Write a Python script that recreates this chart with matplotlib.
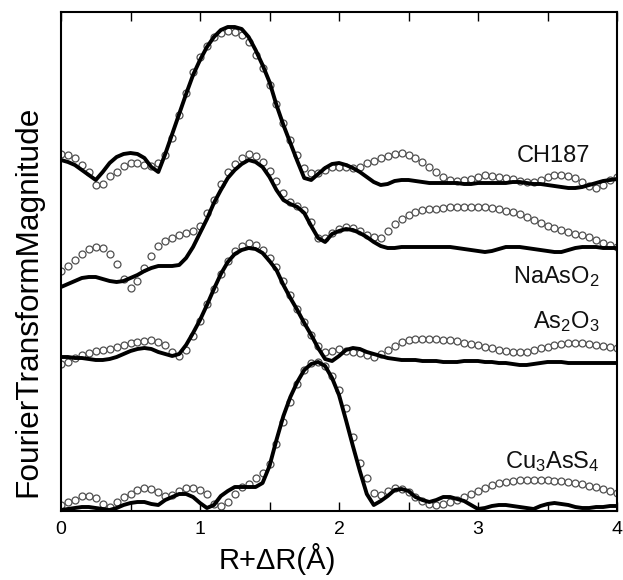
import numpy as np
import matplotlib
matplotlib.use("Agg")
import matplotlib.pyplot as plt
from matplotlib.ticker import MultipleLocator, NullLocator

plt.rcParams['font.family'] = ['Liberation Sans', 'DejaVu Sans']
plt.rcParams['mathtext.default'] = 'regular'

# R + dR grid (Angstrom)
r = np.round(np.arange(0, 81) * 0.05, 2)

# vertical offsets of the stacked spectra (arbitrary units)
offsets = {"CH187": 320, "NaAsO$_2$": 220, "As$_2$O$_3$": 140, "Cu$_3$AsS$_4$": 0}

ch187_fit = [31, 29, 26, 21, 16, 11, 19, 28, 34, 37,
             38, 37, 33, 24, 19, 37, 57, 77, 97, 116,
             131, 144, 154, 161, 164, 164, 162, 154, 141, 126,
             109, 86, 66, 48, 30, 13, 11, 17, 23, 27,
             28, 26, 23, 19, 14, 9, 6, 7, 10, 11,
             11, 10, 9, 8, 8, 8, 8, 8, 7, 7,
             8, 8, 8, 8, 8, 9, 9, 8, 7, 7,
             6, 5, 4, 3, 3, 4, 6, 8, 10, 11, 12]
ch187_data = [37, 36, 33, 26, 19, 6, 7, 15, 19, 25,
              28, 28, 26, 25, 28, 36, 53, 76, 98, 119,
              134, 145, 154, 158, 160, 159, 156, 149, 136, 123,
              106, 87, 68, 51, 36, 23, 18, 18, 21, 24,
              24, 24, 23, 24, 28, 30, 33, 35, 37, 38,
              36, 33, 29, 24, 19, 14, 11, 10, 11, 12,
              14, 16, 15, 14, 13, 12, 10, 9, 9, 11,
              14, 16, 16, 15, 13, 9, 5, 3, 6, 11, 14]

naaso2_fit = [4, 7, 10, 13, 14, 14, 12, 10, 9, 10,
              13, 16, 20, 23, 25, 25, 25, 26, 33, 44,
              58, 72, 88, 101, 113, 121, 127, 131, 129, 124,
              114, 101, 91, 87, 84, 78, 65, 53, 49, 57,
              60, 62, 61, 58, 54, 49, 45, 43, 43, 44,
              44, 44, 44, 44, 44, 44, 44, 43, 42, 41,
              40, 39, 40, 42, 44, 44, 44, 43, 42, 41,
              40, 39, 39, 41, 43, 44, 44, 44, 43, 43, 43]
naaso2_data = [20, 25, 31, 37, 42, 44, 43, 37, 27, 12,
               3, 10, 23, 35, 45, 50, 53, 56, 58, 60,
               65, 78, 91, 107, 119, 127, 133, 137, 135, 129,
               120, 110, 98, 89, 85, 81, 69, 53, 53, 58,
               62, 64, 63, 60, 56, 54, 53, 60, 67, 72,
               76, 79, 81, 82, 82, 83, 84, 84, 84, 84,
               84, 84, 83, 82, 80, 79, 77, 74, 71, 68,
               65, 63, 61, 59, 57, 56, 54, 51, 48, 46, 44]

as2o3_fit = [14, 14, 13, 13, 12, 11, 11, 12, 14, 17,
             20, 22, 23, 22, 19, 17, 15, 17, 26, 38,
             51, 66, 82, 97, 109, 117, 121, 123, 122, 118,
             110, 101, 86, 73, 61, 48, 36, 23, 12, 10,
             15, 21, 23, 22, 19, 17, 15, 13, 12, 11,
             11, 11, 10, 10, 10, 9, 9, 9, 10, 10,
             10, 9, 9, 8, 8, 7, 6, 6, 7, 8,
             9, 9, 9, 8, 8, 8, 8, 8, 8, 8, 8]
as2o3_data = [7, 9, 13, 16, 18, 20, 21, 22, 24, 26,
              28, 29, 30, 31, 29, 26, 19, 15, 21, 35,
              50, 67, 82, 97, 110, 120, 125, 128, 126, 121,
              113, 104, 90, 76, 62, 49, 36, 25, 19, 20,
              22, 20, 19, 18, 16, 14, 17, 21, 25, 29,
              31, 32, 32, 32, 32, 31, 31, 30, 28, 27,
              26, 24, 23, 21, 20, 19, 19, 19, 21, 23,
              24, 26, 27, 28, 28, 28, 27, 26, 25, 24, 23]

cu3ass4_fit = [1, 2, 3, 4, 4, 3, 2, 1, 3, 6,
               8, 9, 9, 7, 6, 11, 14, 17, 17, 14,
               8, 3, 6, 15, 20, 24, 24, 24, 24, 28,
               45, 71, 95, 114, 129, 141, 147, 149, 145, 133,
               116, 91, 65, 40, 17, 6, 10, 15, 21, 22,
               20, 14, 11, 9, 11, 14, 14, 12, 10, 6,
               2, 3, 5, 6, 6, 5, 4, 3, 2, 5,
               7, 8, 7, 6, 4, 3, 3, 4, 4, 5, 5]
cu3ass4_data = [6, 9, 11, 15, 15, 13, 7, 4, 9, 14,
                17, 21, 23, 22, 19, 15, 16, 20, 23, 23,
                21, 17, 7, 5, 9, 17, 24, 27, 33, 38,
                47, 67, 89, 109, 127, 141, 148, 149, 145, 135,
                121, 103, 74, 48, 33, 18, 16, 20, 23, 22,
                19, 14, 10, 7, 6, 7, 9, 11, 14, 17,
                20, 23, 26, 28, 29, 30, 31, 31, 31, 31,
                31, 30, 30, 29, 28, 27, 25, 24, 22, 20, 18]

spectra = [
    ("CH187", ch187_data, ch187_fit),
    ("NaAsO$_2$", naaso2_data, naaso2_fit),
    ("As$_2$O$_3$", as2o3_data, as2o3_fit),
    ("Cu$_3$AsS$_4$", cu3ass4_data, cu3ass4_fit),
]
label_pos = {"CH187": (3.81, 349), "NaAsO$_2$": (3.875, 228),
             "As$_2$O$_3$": (3.875, 183), "Cu$_3$AsS$_4$": (3.875, 43)}

fig = plt.figure(figsize=(6.23, 5.80), dpi=100)
ax = fig.add_axes([61 / 623, 1 - 511 / 580, (617 - 61) / 623, (511 - 12) / 580])

for name, data, fit in spectra:
    off = offsets[name]
    ax.plot(r, np.array(data) + off, linestyle='none', marker='o', markersize=5.0,
            markerfacecolor='white', markeredgecolor='#505050', markeredgewidth=0.9, zorder=2)
for name, data, fit in spectra:
    off = offsets[name]
    ax.plot(r, np.array(fit) + off, color='black', linewidth=2.8, zorder=3,
            solid_capstyle='round')
    lx, ly = label_pos[name]
    ax.text(lx, ly, name, ha='right', va='baseline', fontsize=17, color='#111111')

ax.set_xlim(0, 4)
ax.set_ylim(0, 499)
ax.xaxis.set_major_locator(MultipleLocator(1))
ax.xaxis.set_minor_locator(MultipleLocator(0.5))
ax.yaxis.set_major_locator(NullLocator())
ax.tick_params(axis='x', which='both', direction='in', top=True, bottom=True,
               length=6.5, width=1.0, labelsize=14, pad=7)
for s in ax.spines.values():
    s.set_linewidth(1.5)

ax.set_xlabel("R+ΔR(Å)", fontsize=21)
ax.xaxis.set_label_coords(0.389, -0.064)
ax.set_ylabel("FourierTransformMagnitude", fontsize=22.8)
ax.yaxis.set_label_coords(-0.032, 0.42)

fig.savefig("out.png", dpi=100)
